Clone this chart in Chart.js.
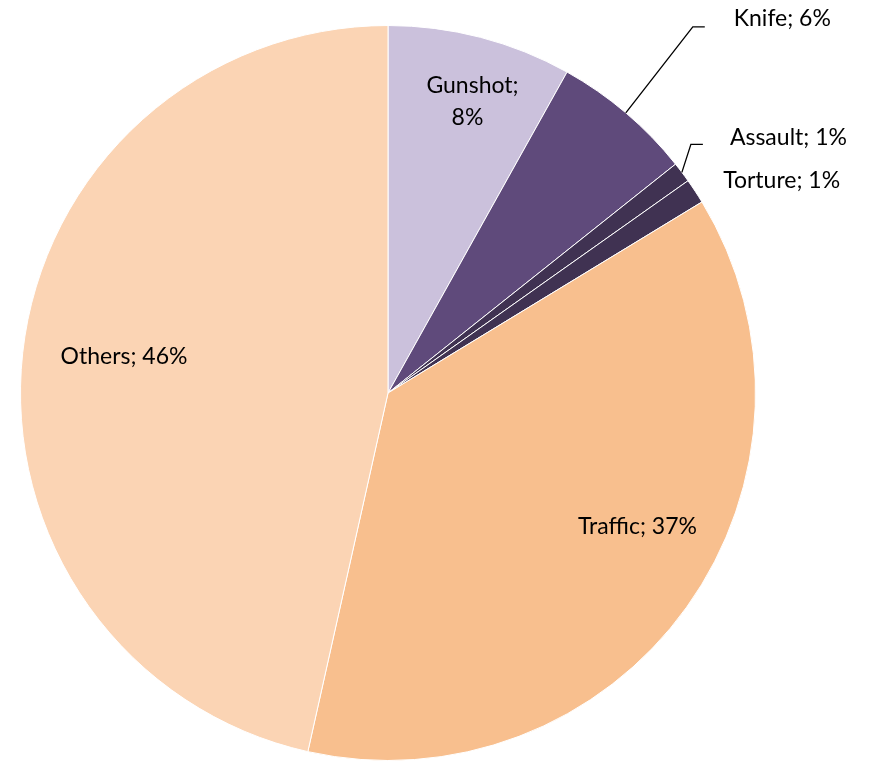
<!DOCTYPE html>
<html><head><meta charset="utf-8">
<script src="https://cdn.jsdelivr.net/npm/chart.js@4/dist/chart.umd.min.js"></script>
<style>html,body{margin:0;padding:0;background:#fff;}#wrap{width:870px;height:764px;}</style>
</head><body><div id="wrap"><canvas id="c" width="870" height="764"></canvas></div>
<script>
const categories = ["Gunshot", "Knife", "Assault", "Torture", "Traffic", "Others"];
const values = [8.1, 6.2, 0.9, 1.1, 37.2, 46.5];
const shownPercents = ["8%", "6%", "1%", "1%", "37%", "46%"];
const colors = ["#CBC1DC", "#5F4A7B", "#403252", "#403252", "#F8BF8E", "#FBD4B4"];

// label placement: inside (radius fraction, angle shift deg) or outside (leader)
const labelCfg = [
  {mode: "in", f: 0.83, da: 1.5, lines: ["Gunshot;", "8%"]},
  {mode: "leader", elbow: [67, -86], tail: 12, tx: 41, ty: -8},
  {mode: "leader", elbow: [9, -28], tail: 12, tx: 39, ty: -7},
  {mode: "free", dx: 28, dy: -11},
  {mode: "in", f: 0.77, da: -7.5},
  {mode: "in", f: 0.725, da: 1.5}
];

const labelPlugin = {
  id: "pieLabels",
  afterDatasetsDraw(chart) {
    const ctx = chart.ctx;
    const meta = chart.getDatasetMeta(0);
    ctx.save();
    ctx.font = "23px Lato, 'Open Sans', sans-serif";
    ctx.fillStyle = "#000";
    ctx.strokeStyle = "#000";
    ctx.lineWidth = 1.3;
    ctx.textBaseline = "middle";
    meta.data.forEach((arc, i) => {
      const p = arc.getProps(["x", "y", "startAngle", "endAngle", "outerRadius"], true);
      const mid = (p.startAngle + p.endAngle) / 2;
      const cfg = labelCfg[i];
      const text = categories[i] + "; " + shownPercents[i];
      if (cfg.mode === "in") {
        const a = mid + cfg.da * Math.PI / 180;
        const x = p.x + Math.cos(a) * p.outerRadius * cfg.f;
        const y = p.y + Math.sin(a) * p.outerRadius * cfg.f;
        ctx.textAlign = "center";
        if (cfg.lines) {
          ctx.fillText(cfg.lines[0], x, y - 14);
          ctx.fillText(cfg.lines[1], x - 5, y + 18);
        } else {
          ctx.fillText(text, x, y);
        }
      } else if (cfg.mode === "leader") {
        const sx = p.x + Math.cos(mid) * p.outerRadius;
        const sy = p.y + Math.sin(mid) * p.outerRadius;
        const ex = sx + cfg.elbow[0], ey = sy + cfg.elbow[1];
        ctx.beginPath();
        ctx.moveTo(sx, sy);
        ctx.lineTo(ex, ey);
        ctx.lineTo(ex + cfg.tail, ey);
        ctx.stroke();
        ctx.textAlign = "left";
        ctx.fillText(text, ex + cfg.tx, ey + cfg.ty);
      } else {
        const sx = p.x + Math.cos(mid) * p.outerRadius;
        const sy = p.y + Math.sin(mid) * p.outerRadius;
        ctx.textAlign = "left";
        ctx.fillText(text, sx + cfg.dx, sy + cfg.dy);
      }
    });
    ctx.restore();
  }
};

new Chart(document.getElementById("c"), {
  type: "pie",
  data: {
    labels: categories,
    datasets: [{
      data: values,
      backgroundColor: colors,
      borderColor: "#ffffff",
      borderWidth: 1
    }]
  },
  options: {
    responsive: false,
    animation: false,
    layout: {padding: {left: 20, right: 114, top: 25, bottom: 3}},
    plugins: {legend: {display: false}, tooltip: {enabled: false}}
  },
  plugins: [labelPlugin]
});
</script>
</body></html>
